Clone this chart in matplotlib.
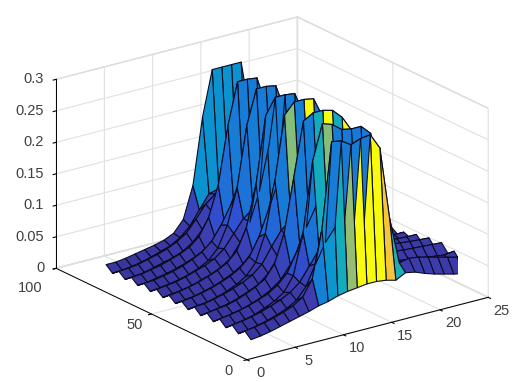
#!/usr/bin/env python3
"""Folded ridge surface, parula colours, MATLAB style box."""
import numpy as np
import matplotlib; matplotlib.use("Agg")
import matplotlib.pyplot as plt
from matplotlib.colors import LinearSegmentedColormap
from matplotlib.ticker import NullFormatter
from mpl_toolkits.mplot3d import proj3d

plt.rcParams["font.family"] = ["Liberation Sans", "DejaVu Sans"]

PARULA = [(0, "#352a87"), (.05, "#3d3dae"), (.12, "#2b55d8"), (.25, "#1481d6"), (.375, "#06a4ca"),
          (.5, "#2eb7a4"), (.625, "#87bf77"), (.75, "#d1bb59"), (.875, "#fec832"), (1, "#f9fb0e")]

x_vals = list(range(3, 27))
y_vals = [13, 16.3, 19.6, 22.9, 26.2, 29.5, 32.8, 36.1, 39.4, 42.7, 46, 49.3,
          52.6, 55.9, 59.2, 62.5, 65.8, 69.1, 72.4, 75.7, 79, 82.3, 85.6, 89]

# one row per y, columns x = 3..26; a wall every third row
z_rows = [
    [.001, .003, .006, .010, .014, .018, .022, .027, .030, .035, .038, .040, .042, .042, .040, .036, .044, .041, .035, .030, .026, .022, .019, .018],
    [.010, .012, .015, .019, .024, .030, .040, .065, .140, .275, .272, .262, .268, .270, .245, .130, .055, .058, .056, .052, .048, .044, .040, .034],
    [.001, .003, .006, .010, .015, .021, .030, .048, .080, .110, .130, .135, .130, .120, .090, .052, .040, .036, .034, .030, .028, .025, .022, .024],
    [.010, .012, .015, .019, .024, .030, .038, .050, .072, .095, .105, .110, .105, .098, .075, .045, .046, .045, .042, .040, .038, .036, .034, .036],
    [.001, .003, .006, .010, .016, .023, .033, .056, .120, .230, .285, .280, .268, .265, .265, .250, .070, .040, .035, .032, .030, .027, .025, .028],
    [.010, .012, .015, .019, .024, .030, .040, .055, .085, .120, .150, .160, .155, .140, .100, .055, .046, .048, .046, .044, .043, .042, .041, .040],
    [.001, .003, .006, .009, .014, .020, .028, .040, .060, .082, .098, .104, .102, .094, .072, .044, .034, .032, .030, .029, .028, .027, .026, .026],
    [.010, .012, .014, .018, .024, .031, .040, .060, .105, .190, .275, .284, .284, .280, .265, .240, .055, .046, .043, .043, .042, .040, .039, .038],
    [.001, .003, .006, .009, .014, .020, .027, .040, .062, .090, .120, .135, .130, .110, .080, .046, .032, .030, .028, .027, .026, .025, .024, .024],
    [.010, .011, .014, .018, .023, .029, .037, .050, .074, .096, .110, .116, .112, .100, .074, .044, .040, .038, .037, .036, .035, .035, .034, .034],
    [.001, .003, .005, .009, .014, .021, .030, .048, .090, .170, .270, .287, .287, .284, .250, .100, .036, .030, .027, .026, .025, .024, .024, .024],
    [.009, .011, .014, .018, .023, .029, .038, .052, .080, .120, .160, .175, .170, .140, .095, .050, .036, .034, .032, .031, .030, .029, .028, .028],
    [.001, .003, .005, .009, .013, .019, .026, .036, .052, .074, .092, .100, .098, .092, .070, .040, .026, .025, .024, .023, .022, .021, .020, .020],
    [.009, .011, .014, .018, .023, .029, .037, .052, .085, .150, .255, .280, .280, .278, .240, .095, .038, .034, .030, .029, .028, .028, .027, .027],
    [.001, .003, .005, .008, .013, .018, .025, .035, .056, .085, .130, .200, .150, .110, .072, .038, .024, .023, .022, .021, .020, .019, .018, .018],
    [.009, .011, .013, .017, .022, .027, .034, .046, .066, .086, .098, .105, .102, .094, .070, .036, .030, .028, .027, .026, .025, .024, .023, .023],
    [.001, .003, .005, .008, .012, .018, .026, .042, .075, .130, .225, .279, .279, .276, .230, .088, .026, .023, .021, .020, .019, .018, .018, .018],
    [.009, .010, .013, .016, .021, .027, .035, .048, .070, .098, .130, .150, .140, .110, .074, .036, .028, .026, .024, .023, .022, .022, .021, .021],
    [.001, .002, .005, .008, .012, .017, .023, .031, .045, .064, .084, .090, .092, .085, .062, .034, .021, .020, .019, .018, .017, .017, .016, .016],
    [.009, .010, .013, .016, .021, .026, .033, .046, .072, .120, .210, .276, .276, .274, .225, .085, .030, .026, .024, .023, .022, .021, .020, .020],
    [.001, .002, .004, .008, .012, .016, .022, .032, .048, .072, .100, .115, .110, .090, .062, .032, .020, .019, .018, .017, .016, .016, .015, .015],
    [.009, .010, .012, .016, .020, .025, .032, .042, .060, .080, .092, .098, .098, .086, .060, .032, .027, .025, .023, .022, .021, .020, .019, .019],
    [.001, .002, .004, .007, .011, .016, .021, .030, .044, .066, .088, .092, .092, .086, .060, .032, .018, .017, .016, .016, .015, .015, .015, .015],
    [.010, .010, .012, .015, .018, .021, .025, .032, .050, .100, .205, .276, .276, .276, .276, .180, .040, .028, .024, .022, .021, .020, .020, .020],
]

# faces whose colour does not follow height (row index, x at left edge, colour level)
hot_row = [0, 0, 0, 0, 0, 0, 0, 0, 0, 3, 3, 6, 6, 6, 6, 9, 9, 22, 22, 22, 22, 22, 22]
hot_x = [10, 11, 12, 13, 14, 15, 16, 17, 18, 12, 13, 14, 15, 16, 17, 13, 15, 12, 13, 14, 15, 16, 17]
hot_c = [.25, .33, .42, .65, 1.0, 1.0, 1.0, .85, .45, .42, .62, .42, 1.0, .42, 1.0, .62, 1.0,
         .31, .31, .31, .31, .31, .31]

x_ticks = [0, 5, 10, 15, 20, 25]
y_ticks = [0, 50, 100]
z_ticks = [0, .05, .1, .15, .2, .25, .3]
z_labels = ["0", "0.05", "0.1", "0.15", "0.2", "0.25", "0.3"]

Z = np.array(z_rows)
X, Y = np.meshgrid(x_vals, y_vals)
cmap = LinearSegmentedColormap.from_list("parula", PARULA)

# colour level per face
lev = np.zeros((Z.shape[0] - 1, Z.shape[1] - 1))
for i in range(lev.shape[0]):
    for j in range(lev.shape[1]):
        lev[i, j] = np.interp(Z[i:i + 2, j:j + 2].max(), [0, .06, .11, .16, .3], [.03, .05, .08, .17, .25])
for r, xx, c in zip(hot_row, hot_x, hot_c):
    lev[r, x_vals.index(xx)] = c

fig = plt.figure(figsize=(5.22, 3.82), dpi=100)
ax = fig.add_axes([6 / 522, -2.5 / 382, 1, 1], projection="3d", proj_type="ortho")
ax.view_init(elev=20.6, azim=-126.3)
ax.set_box_aspect((301, 324, 203), zoom=1.23)
ax.set_xlim(0, 25); ax.set_ylim(0, 100); ax.set_zlim(0, 0.3)

ax.plot_surface(X, Y, Z, rstride=1, cstride=1, facecolors=cmap(lev), shade=False,
                edgecolor="#0b0b22", linewidth=0.8, antialiased=True)

ax.set_xticks(x_ticks); ax.set_yticks(y_ticks); ax.set_zticks(z_ticks)
ax.zaxis.set_ticks_position("upper")
for a in (ax.xaxis, ax.yaxis, ax.zaxis):
    a.set_major_formatter(NullFormatter())
    a.set_tick_params(label1On=False, label2On=False)
    a.set_pane_color((1, 1, 1, 1))
    a.pane.set_edgecolor("#d4d4d4")
    a._axinfo["grid"].update(color="#e0e0e0", linewidth=0.8)
    a._axinfo["axisline"]["color"] = "#262626"
    a._axinfo["tick"].update(inward_factor=0.15, outward_factor=0.0)
    a.line.set_linewidth(0.7)

# tick labels sit closer to the box than axis3d allows, so place them by hand
def put(x, y, z, s, ha):
    px, py, _ = proj3d.proj_transform(x, y, z, ax.get_proj())
    ax.text2D(px, py, s, transform=ax.transData, ha=ha, va="center",
              fontsize=10.5, color="#404040", zorder=20)

for t in x_ticks:
    put(t, -7, -0.011, str(t), "center")
# 100 sits lower and further left than the other two, clear of the z axis 0
for t, dx, dz in zip(y_ticks, [-1.5, -0.9, -1.4], [-0.012, -0.014, -0.026]):
    put(dx, t, dz, str(t), "right")
for t, s in zip(z_ticks, z_labels):
    put(-0.6, 103.2, t - 0.002, s, "right")

fig.savefig("out.png", dpi=100)
